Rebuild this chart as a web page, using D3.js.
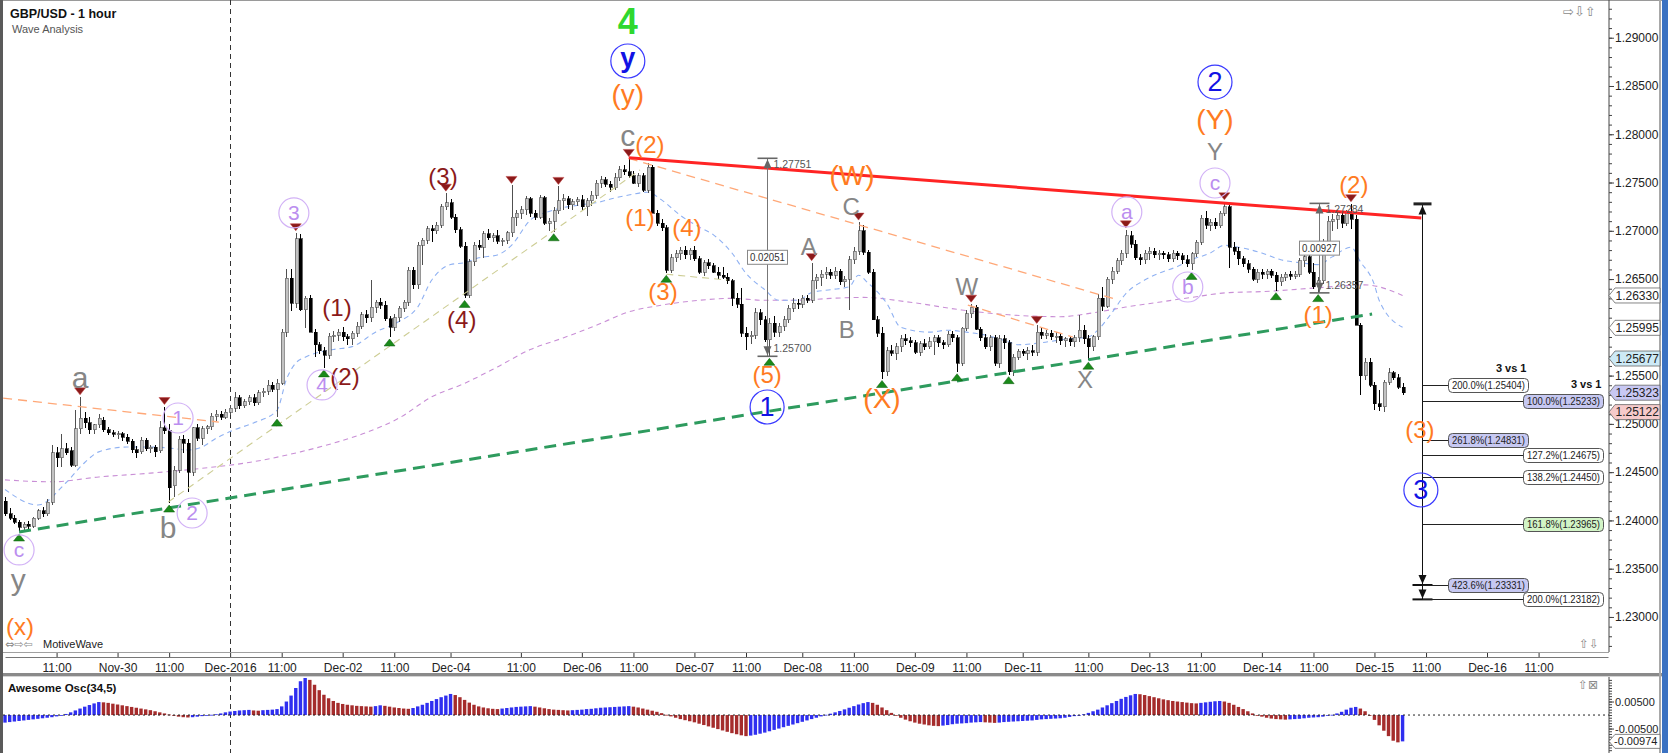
<!DOCTYPE html>
<html>
<head>
<meta charset="utf-8">
<title>GBP/USD - 1 hour</title>
<script src="https://cdn.jsdelivr.net/npm/d3@7"></script>
<style>
  html, body { margin: 0; padding: 0; background: #fff; }
  svg { display: block; font-family: "Liberation Sans", Arial, sans-serif; }
</style>
</head>
<body>
<div id="draw"></div>
<script>
// hourly GBP/USD candles, price x 10000 : [open, high, low, close]
const ohlc = [
[12420,12424,12405,12407],[12407,12413,12400,12402],[12402,12406,12396,12398],[12398,12400,12388,12393],[12393,12398,12390,12396],
[12396,12399,12391,12394],[12394,12404,12392,12402],[12402,12412,12400,12410],[12410,12414,12404,12407],[12407,12422,12405,12419],
[12419,12478,12416,12470],[12470,12476,12455,12465],[12465,12490,12455,12474],[12474,12480,12468,12470],[12472,12476,12455,12457],
[12457,12514,12455,12495],[12495,12528,12490,12506],[12506,12512,12496,12501],[12501,12507,12490,12494],[12494,12500,12490,12499],
[12499,12510,12496,12506],[12504,12507,12492,12494],[12494,12497,12488,12491],[12491,12494,12486,12489],[12489,12493,12484,12490],
[12490,12492,12482,12486],[12486,12489,12479,12482],[12482,12484,12470,12473],[12473,12477,12465,12470],[12471,12486,12469,12483],
[12483,12485,12472,12474],[12474,12478,12470,12476],[12476,12478,12466,12471],[12472,12503,12470,12496],[12496,12518,12490,12493],
[12493,12500,12418,12434],[12436,12456,12424,12452],[12452,12487,12449,12484],[12484,12488,12470,12480],[12480,12484,12429,12450],
[12450,12497,12446,12496],[12496,12500,12482,12485],[12485,12498,12478,12495],[12495,12499,12490,12497],[12497,12511,12494,12508],
[12508,12514,12503,12510],[12510,12513,12504,12507],[12507,12515,12505,12512],[12512,12520,12509,12516],[12516,12533,12512,12527],
[12527,12530,12515,12519],[12519,12526,12516,12523],[12523,12530,12520,12527],[12527,12531,12519,12522],[12522,12535,12520,12532],
[12532,12537,12528,12534],[12534,12545,12530,12540],[12540,12543,12533,12536],[12536,12546,12507,12542],[12542,12598,12540,12595],
[12595,12660,12590,12651],[12651,12660,12617,12625],[12625,12698,12620,12692],[12692,12697,12617,12618],[12618,12632,12599,12630],
[12630,12633,12595,12595],[12595,12598,12569,12582],[12582,12585,12572,12576],[12576,12580,12558,12571],[12571,12594,12567,12591],
[12591,12596,12585,12592],[12592,12598,12586,12595],[12595,12600,12586,12590],[12590,12593,12582,12588],[12588,12596,12582,12594],
[12594,12606,12590,12601],[12601,12616,12598,12613],[12613,12618,12604,12610],[12610,12649,12606,12621],[12621,12628,12615,12626],
[12626,12630,12619,12623],[12623,12627,12607,12609],[12609,12612,12590,12600],[12600,12614,12596,12610],[12610,12622,12606,12620],
[12620,12628,12616,12626],[12626,12662,12622,12659],[12659,12662,12640,12644],[12644,12688,12640,12685],[12685,12693,12665,12690],
[12690,12705,12686,12702],[12702,12706,12688,12700],[12700,12709,12697,12706],[12706,12728,12703,12725],[12725,12739,12722,12729],
[12729,12733,12712,12714],[12714,12717,12698,12701],[12701,12704,12682,12684],[12684,12688,12630,12633],[12633,12671,12630,12668],
[12668,12688,12664,12685],[12685,12690,12680,12683],[12683,12700,12672,12697],[12697,12702,12690,12693],[12693,12698,12688,12695],
[12695,12701,12686,12689],[12689,12693,12684,12690],[12690,12700,12686,12698],[12698,12747,12694,12714],[12714,12722,12705,12718],
[12718,12726,12712,12722],[12722,12736,12716,12733],[12733,12735,12714,12718],[12718,12722,12711,12714],[12714,12737,12712,12734],
[12734,12736,12706,12708],[12708,12713,12700,12710],[12710,12725,12699,12721],[12721,12746,12717,12731],[12731,12738,12722,12733],
[12733,12736,12723,12727],[12727,12733,12722,12730],[12730,12735,12726,12732],[12732,12737,12722,12725],[12725,12734,12715,12731],
[12731,12741,12726,12737],[12737,12753,12733,12749],[12749,12757,12744,12753],[12753,12756,12745,12748],[12748,12752,12740,12745],
[12745,12760,12742,12755],[12755,12767,12752,12763],[12763,12768,12758,12761],[12761,12775,12755,12757],[12757,12762,12748,12749],
[12749,12760,12745,12757],[12757,12760,12740,12742],[12742,12770,12739,12766],[12766,12768,12718,12718],[12718,12722,12705,12708],
[12708,12712,12700,12703],[12703,12706,12656,12659],[12659,12676,12656,12672],[12672,12680,12668,12676],[12676,12683,12670,12680],
[12680,12684,12671,12675],[12675,12682,12670,12680],[12680,12684,12669,12671],[12671,12674,12655,12657],[12657,12670,12653,12667],
[12667,12671,12660,12664],[12664,12667,12656,12657],[12657,12662,12650,12654],[12654,12663,12650,12652],[12652,12656,12645,12648],
[12648,12650,12622,12630],[12630,12636,12620,12624],[12624,12641,12590,12594],[12594,12600,12577,12590],[12590,12596,12583,12592],
[12592,12620,12588,12615],[12615,12619,12602,12608],[12608,12612,12585,12587],[12587,12610,12570,12604],[12604,12612,12590,12595],
[12595,12604,12590,12601],[12601,12612,12596,12608],[12608,12623,12605,12620],[12620,12630,12616,12625],[12625,12629,12619,12624],
[12624,12633,12620,12630],[12630,12633,12625,12628],[12628,12667,12625,12648],[12648,12655,12640,12652],[12652,12659,12643,12655],
[12655,12662,12650,12657],[12657,12660,12650,12654],[12654,12662,12650,12658],[12658,12660,12644,12647],[12647,12653,12642,12650],
[12650,12674,12618,12670],[12670,12683,12666,12679],[12679,12709,12675,12700],[12700,12706,12675,12678],[12678,12680,12655,12657],
[12657,12660,12608,12608],[12608,12612,12590,12594],[12594,12600,12547,12554],[12554,12580,12550,12576],[12576,12582,12570,12573],
[12573,12584,12566,12580],[12580,12592,12574,12588],[12588,12593,12582,12586],[12586,12590,12580,12584],[12584,12587,12572,12574],
[12574,12586,12570,12583],[12583,12588,12577,12580],[12580,12590,12578,12585],[12585,12592,12571,12589],[12589,12592,12580,12584],
[12584,12587,12578,12582],[12582,12596,12580,12593],[12593,12596,12585,12589],[12589,12592,12554,12563],[12563,12600,12560,12599],
[12599,12618,12596,12614],[12614,12624,12610,12621],[12621,12623,12597,12598],[12598,12600,12586,12589],[12589,12593,12578,12580],
[12580,12592,12575,12589],[12589,12592,12560,12563],[12563,12592,12558,12588],[12588,12592,12578,12584],[12584,12587,12551,12554],
[12554,12572,12550,12569],[12569,12578,12566,12575],[12575,12578,12570,12573],[12573,12580,12566,12576],[12576,12582,12570,12574],
[12574,12602,12570,12595],[12595,12600,12588,12592],[12592,12597,12588,12594],[12594,12597,12587,12590],[12590,12595,12584,12591],
[12591,12594,12582,12586],[12586,12590,12580,12588],[12588,12590,12581,12585],[12585,12592,12580,12589],[12589,12613,12585,12597],
[12597,12602,12583,12588],[12588,12592,12566,12580],[12580,12592,12575,12590],[12590,12635,12587,12630],[12630,12642,12617,12622],
[12622,12652,12620,12650],[12650,12662,12645,12658],[12658,12672,12655,12669],[12669,12680,12665,12677],[12677,12701,12672,12695],
[12695,12700,12682,12686],[12686,12690,12670,12672],[12672,12676,12665,12670],[12670,12680,12666,12677],[12677,12683,12670,12679],
[12679,12682,12672,12675],[12675,12680,12670,12677],[12677,12679,12671,12675],[12675,12678,12668,12671],[12671,12680,12668,12677],
[12677,12679,12670,12674],[12674,12677,12666,12670],[12670,12675,12663,12666],[12666,12678,12659,12676],[12676,12690,12673,12688],
[12688,12716,12685,12713],[12713,12720,12702,12706],[12706,12712,12700,12709],[12709,12713,12702,12705],[12705,12721,12703,12718],
[12718,12730,12715,12725],[12725,12728,12661,12683],[12683,12688,12675,12679],[12679,12683,12665,12671],[12671,12674,12662,12666],
[12666,12670,12656,12660],[12660,12662,12648,12650],[12650,12660,12646,12657],[12657,12660,12650,12655],[12655,12660,12650,12658],
[12658,12660,12651,12654],[12654,12657,12638,12647],[12647,12655,12643,12652],[12652,12657,12648,12655],[12655,12658,12649,12653],
[12653,12658,12650,12655],[12655,12672,12652,12669],[12669,12680,12662,12673],[12673,12676,12655,12657],[12657,12667,12640,12642],
[12642,12652,12636,12648],[12648,12692,12645,12688],[12688,12715,12685,12710],[12710,12717,12700,12712],[12712,12720,12702,12716],
[12716,12721,12703,12708],[12708,12722,12705,12719],[12719,12728,12702,12712],[12712,12716,12602,12602],[12602,12605,12530,12550],
[12550,12568,12545,12564],[12564,12568,12538,12540],[12540,12543,12514,12521],[12521,12535,12513,12518],[12518,12545,12512,12543],
[12543,12558,12540,12553],[12553,12555,12545,12548],[12548,12552,12536,12538],[12538,12542,12530,12532]
];

// Awesome Osc(34,5) per bar, in pips (x 0.0001)
const aoPips = [
-28,-26,-24,-22,-20,-18,-16,-14,-12,-10,-8,-5,-2,
4,10,17,24,31,37,43,48,
47,45,42,39,36,33,30,27,24,21,18,14,10,6,2,
-3,-6,-8,-9,-8,-6,-4,-2,1,3,
6,10,13,15,17,18,19,17,16,18,19,20,22,
32,50,72,100,125,137,
130,112,92,75,62,52,45,41,38,36,34,33,32,31,
33,36,
34,31,28,26,24,23,
26,32,38,45,52,59,66,72,78,
74,66,56,46,38,32,28,25,23,22,
24,26,28,30,31,32,33,
31,28,25,22,20,19,18,17,
18,19,20,22,23,25,27,28,29,30,31,32,33,
31,28,24,20,16,
12,7,1,-5,-10,-15,-19,-23,-27,-32,-37,-42,-47,-52,-57,-62,-67,-71,-75,-78,
-76,-73,-69,-65,-60,-55,-50,-45,-40,-35,-30,-25,-20,-15,-10,-5,1,
5,10,15,21,27,33,39,44,48,
45,38,28,18,8,-2,-10,-17,-23,-28,-32,-35,-38,-40,-41,
-39,-37,-34,-32,-31,-30,-28,-27,-26,-27,-28,-29,-28,-26,-25,-24,-23,-22,-21,-20,-18,-16,-15,-14,-13,-12,-10,
-7,-4,-1,3,8,14,20,28,36,44,52,60,67,73,78,
77,74,70,66,62,58,55,52,50,48,46,44,43,
45,47,49,51,52,
50,45,38,30,
22,14,6,-1,-6,-10,-13,-15,-16,-17,-16,-15,-14,-12,-10,-9,-8,-6,-3,1,6,
12,20,27,30,
24,14,0,-18,-38,-58,-78,-95,-101,-97.4
];

// moving averages: [bar, price]
const blueMa = [
[0,1.2432],[7,1.2416],[13,1.2439],[17,1.2460],[20,1.2471],[26,1.2476],[31,1.2476],[35,1.2475],[39,1.2473],[42,1.2476],
[45,1.2485],[49,1.2494],[53,1.2501],[58,1.2514],[60,1.2546],[62,1.2563],[64,1.2569],[70,1.2577],[74,1.2580],[79,1.2595],
[84,1.2606],[88,1.2621],[91,1.2649],[95,1.2665],[98,1.2667],[101,1.2672],[105,1.2675],[108,1.2685],[112,1.2711],[116,1.2720],
[119,1.2724],[123,1.2727],[126,1.2729],[130,1.2734],[133,1.2737],[137,1.2740],[140,1.2732],[144,1.2716],[148,1.2704],[151,1.2696],
[155,1.2677],[158,1.2656],[162,1.2639],[165,1.2628],[169,1.2628],[172,1.2636],[176,1.2639],[180,1.2642],[182,1.2654],[184,1.2646],
[188,1.2625],[191,1.2600],[197,1.2595],[201,1.2597],[205,1.2595],[209,1.2592],[214,1.2585],[216,1.2582],[221,1.2584],[225,1.2587],
[231,1.2590],[233,1.2597],[236,1.2615],[239,1.2635],[243,1.2649],[246,1.2656],[250,1.2663],[253,1.2670],[257,1.2677],[260,1.2685],
[263,1.2683],[268,1.2677],[272,1.2670],[276,1.2667],[280,1.2665],[283,1.2673],[287,1.2683],[289,1.2668],[292,1.2644],[293,1.2628],[298,1.2600]
];
const purpleMa = [
[0,1.2442],[10,1.2440],[20,1.2445],[31,1.2449],[42,1.2454],[52,1.2460],[63,1.2471],[70,1.2480],[77,1.2491],[84,1.2506],
[91,1.2528],[98,1.2542],[105,1.2559],[112,1.2577],[119,1.2589],[126,1.2602],[133,1.2616],[140,1.2623],[148,1.2628],[155,1.2630],
[162,1.2628],[169,1.2628],[176,1.2630],[183,1.2631],[193,1.2626],[204,1.2618],[214,1.2613],[225,1.2611],[232,1.2615],[239,1.2621],
[246,1.2626],[253,1.2631],[261,1.2636],[268,1.2637],[280,1.2641],[290,1.2644],[298,1.2633]
];

// time axis
const tickBars = [11,24,35,48,59,72,83,95,110,123,134,147,158,170,181,194,205,217,231,244,255,268,279,292,303,316,327];
const tickLabels = ["11:00","Nov-30","11:00","Dec-2016","11:00","Dec-02","11:00","Dec-04","11:00","Dec-06","11:00","Dec-07","11:00",
  "Dec-08","11:00","Dec-09","11:00","Dec-11","11:00","Dec-13","11:00","Dec-14","11:00","Dec-15","11:00","Dec-16","11:00"];
const monthStartBar = 48;

const priceTicks = [1.230,1.235,1.240,1.245,1.250,1.255,1.260,1.265,1.270,1.275,1.280,1.285,1.290];
const oscTicks = [-0.005, 0.005];
const priceTags = [[1.26330,"plain"],[1.25995,"plain"],[1.25677,"blue"],[1.25323,"lavender"],[1.25122,"pink"]];
const oscLast = -0.00974;

// swing markers (bar index)
const highMarks = [16,34,62,94,108,118,133,172,182,206,220,239,260,287];
const lowMarks = [3,35,58,68,82,98,117,141,163,187,203,214,231,253,271,280];

// trend lines [bar, price] -> [bar, price]
const trendLines = [
  {kind:"orange", from:[-0.4,1.25267], to:[45.6,1.25019]},
  {kind:"khaki",  from:[34.8,1.2419],  to:[135.4,1.2763]},
  {kind:"khaki",  from:[141,1.2655],   to:[154,1.2649]},
  {kind:"orange", from:[133,1.2775],   to:[236.7,1.26293]},
  {kind:"orange", from:[205.3,1.26231],to:[227.7,1.25899]},
  {kind:"support",from:[3,1.2388],     to:[291.5,1.26138]},
  {kind:"resist", from:[133,1.27757],  to:[302,1.27132]}
];

// price range tool
const measures = [
  {bar:162.5, top:1.27751, bottom:1.25700, diff:"0.02051"},
  {bar:280.2, top:1.27284, bottom:1.26357, diff:"0.00927"}
];

// fib extension
const fibAnchor = {bar:302.1, top:1.27284};
const fibLevels = [
  ["200.0%",1.25404,"near","plain"],
  ["100.0%",1.25233,"far","lavender"],
  ["261.8%",1.24831,"near","lavender"],
  ["127.2%",1.24675,"far","plain"],
  ["138.2%",1.24450,"far","plain"],
  ["161.8%",1.23965,"far","green"],
  ["423.6%",1.23331,"near","lavender"],
  ["200.0%",1.23182,"far","plain"]
];
const fibStops = [1.23331, 1.23182];
const fibHeaders = [["3 vs 1","near",1.25404],["3 vs 1","far",1.25233]];

// wave labels [text, bar, price, kind]
const waveLabels = [
  ["4",132.8,1.2917,"green"],
  ["y",132.8,1.28759,"blueCircle"],
  ["(y)",132.8,1.28376,"orangeBig"],
  ["c",132.8,1.27982,"gray"],
  ["(2)",137.5,1.27889,"orange"],
  ["(1)",135.4,1.27133,"orange"],
  ["(4)",145.4,1.27029,"orange"],
  ["(3)",140.3,1.26366,"orange"],
  ["(5)",162.5,1.25507,"orange"],
  ["1",162.5,1.25175,"blueCircle"],
  ["A",171.4,1.26832,"grayCap"],
  ["B",179.5,1.25972,"grayCap"],
  ["C",180.4,1.27246,"grayCap"],
  ["(W)",180.6,1.27578,"orangeBig"],
  ["(3)",93.4,1.27557,"darkred"],
  ["(4)",97.4,1.26076,"darkred"],
  ["(1)",70.8,1.26200,"darkred"],
  ["(2)",72.5,1.25485,"darkred"],
  ["3",61.6,1.27185,"purpleCircle"],
  ["4",67.6,1.25403,"purpleCircle"],
  ["1",36.9,1.25061,"purpleCircle"],
  ["2",39.9,1.24077,"purpleCircle"],
  ["c",3,1.23694,"purpleCircle"],
  ["y",2.8,1.2335,"gray"],
  ["(x)",3.2,1.22897,"orange"],
  ["a",16,1.25485,"gray"],
  ["b",34.8,1.23922,"gray"],
  ["W",205.1,1.26418,"grayCap"],
  ["X",230.3,1.25455,"grayCap"],
  ["(X)",187,1.25268,"orangeBig"],
  ["a",239.2,1.27195,"purpleCircle"],
  ["b",252.2,1.26418,"purpleCircle"],
  ["c",258,1.27495,"purpleCircle"],
  ["Y",258,1.27816,"grayCap"],
  ["(Y)",258,1.28158,"orangeBig"],
  ["2",258,1.28541,"blueCircle"],
  ["(2)",287.6,1.27474,"orange"],
  ["(1)",280,1.26127,"orange"],
  ["(3)",301.7,1.24936,"orange"],
  ["3",301.9,1.24315,"blueCircle"]
];

const FONT = "Liberation Sans, Arial, sans-serif";

class WaveChartRenderer {

    constructor(candles, ao) {
        this.candles = candles;
        this.ao = ao;
    }

    render() {
        this._initVariable();
        this.vis = this._initSvg();
        this._drawFrame();
        this._drawTimeAxis();
        this._drawPriceAxis();
        this._drawOscPane();
        this._drawMovingAverages();
        this._drawCandles();
        this._drawTrendLines();
        this._drawMarkers();
        this._drawMeasures();
        this._drawFib();
        this._drawLabels();
        this._drawTags();
        this._drawHeader();
    }

    _initVariable() {
        this.w = 1668;
        this.h = 753;
        this.axisX = 1609;
        this.plotBottom = 652;
        this.oscTop = 677;
        // bar index -> pixel, one hourly bar ~4.69px
        this.x = d3.scaleLinear().domain([0, 341.8]).range([5, 1608]);
        this.y = d3.scaleLinear().domain([1.22637, 1.2937]).range([652, 2]);
        this.yOsc = d3.scaleLinear().domain([-0.0133, 0.0137]).range([751, 678]);
    }

    _initSvg() {
        const svg = d3.select("#draw").append("svg")
            .attr("width", this.w)
            .attr("height", this.h)
            .attr("font-family", FONT);
        const defs = svg.append("defs");
        defs.append("clipPath").attr("id", "plotClip")
            .append("rect").attr("x", 3).attr("y", 0).attr("width", this.axisX - 3).attr("height", this.plotBottom);
        defs.append("clipPath").attr("id", "oscClip")
            .append("rect").attr("x", 3).attr("y", this.oscTop).attr("width", this.axisX - 3).attr("height", this.h - this.oscTop);
        return svg;
    }

    _drawFrame() {
        const v = this.vis;
        v.append("rect").attr("width", this.w).attr("height", this.h).attr("fill", "#fff");
        // strip between the time axis and the oscillator
        v.append("rect").attr("x", 0).attr("y", 673).attr("width", this.w).attr("height", 3).attr("fill", "#8a8a8a");
        v.append("line").attr("x1", 0).attr("x2", this.w).attr("y1", 676.5).attr("y2", 676.5).attr("stroke", "#d4d4d4");
        v.append("line").attr("x1", 0).attr("x2", this.axisX).attr("y1", this.plotBottom + 0.5).attr("y2", this.plotBottom + 0.5)
            .attr("stroke", "#a0a0a0");
        v.append("line").attr("x1", 0).attr("x2", this.w).attr("y1", 0.5).attr("y2", 0.5).attr("stroke", "#9a9a9a");
        // window edges
        v.append("rect").attr("x", 0).attr("y", 0).attr("width", 3).attr("height", this.h).attr("fill", "#5a5a5a");
        v.append("rect").attr("x", 1659).attr("y", 0).attr("width", 2).attr("height", this.h).attr("fill", "#a8a8a8");
        v.append("rect").attr("x", 1662).attr("y", 0).attr("width", 6).attr("height", this.h).attr("fill", "#3b72c2");
        // month separator, dashed through both panes
        const mx = Math.round(this.x(monthStartBar)) + 0.5;
        [[0, this.plotBottom], [this.oscTop, this.h]].forEach(([a, b]) => {
            v.append("line").attr("x1", mx).attr("x2", mx).attr("y1", a).attr("y2", b)
                .attr("stroke", "#333").attr("stroke-dasharray", "5,4");
        });
    }

    _drawTimeAxis() {
        const axis = d3.axisBottom(this.x)
            .tickValues(tickBars)
            .tickFormat((d, i) => tickLabels[i])
            .tickSize(-4).tickSizeOuter(0).tickPadding(6);
        const g = this.vis.append("g").attr("transform", "translate(0,657)").call(axis);
        g.attr("font-family", FONT).attr("font-size", 12);
        g.select(".domain").attr("stroke", "#777");
        g.selectAll(".tick line").attr("stroke", "#333");
        g.selectAll("text").attr("fill", "#222");
    }

    _drawPriceAxis() {
        const g = this.vis.append("g").attr("transform", `translate(${this.axisX},0)`);
        const minor = d3.axisRight(this.y).tickValues(d3.range(1.227, 1.2935, 0.001)).tickSize(3).tickFormat("");
        g.append("g").call(minor).call(s => s.select(".domain").remove());
        const major = d3.axisRight(this.y).tickValues(priceTicks)
            .tickFormat(d => d.toFixed(5)).tickSize(5).tickSizeOuter(0).tickPadding(1);
        const mg = g.append("g").call(major);
        mg.attr("font-family", FONT).attr("font-size", 12);
        mg.select(".domain").attr("d", `M0,0V${this.plotBottom}`).attr("stroke", "#444");
        mg.selectAll("text").attr("fill", "#222");
        g.selectAll("line").attr("stroke", "#444");
    }

    _drawOscPane() {
        const v = this.vis;
        const zero = this.yOsc(0);
        const g = v.append("g").attr("clip-path", "url(#oscClip)");
        const vals = this.ao.map(p => p / 10000);
        g.selectAll("rect.ao").data(vals).join("rect").attr("class", "ao")
            .attr("x", (d, i) => this.x(i) - 1.7)
            .attr("width", 3.4)
            .attr("y", d => Math.min(this.yOsc(d), zero))
            .attr("height", d => Math.max(0.8, Math.abs(this.yOsc(d) - zero)))
            // blue while rising, red while falling
            .attr("fill", (d, i) => (i === 0 || d > vals[i - 1]) ? "#2f2ff0" : "#a52c2c");
        v.append("line").attr("x1", 3).attr("x2", this.axisX).attr("y1", zero).attr("y2", zero)
            .attr("stroke", "#222").attr("stroke-dasharray", "2,3");

        const ax = v.append("g").attr("transform", `translate(${this.axisX},0)`);
        ax.append("g").call(d3.axisRight(this.yOsc).tickValues(d3.range(-0.013, 0.0131, 0.001)).tickSize(3).tickFormat(""))
            .call(s => s.select(".domain").remove());
        const mg = ax.append("g").call(d3.axisRight(this.yOsc).tickValues(oscTicks)
            .tickFormat(d => d.toFixed(5)).tickSize(5).tickSizeOuter(0).tickPadding(1));
        mg.attr("font-family", FONT).attr("font-size", 11);
        mg.select(".domain").attr("d", `M0,${this.oscTop}V${this.h}`).attr("stroke", "#444");
        ax.selectAll("line").attr("stroke", "#444");
        mg.selectAll("text").attr("fill", "#222");

        v.append("text").attr("x", 8).attr("y", 692).attr("font-size", 11.5).attr("font-weight", "bold")
            .attr("fill", "#111").text("Awesome Osc(34,5)");
        v.append("text").attr("x", 1578).attr("y", 689).attr("font-size", 12).attr("fill", "#8a8a8a")
            .attr("font-family", "DejaVu Sans").text("⇧⊠");

        // last value tag
        const ty = this.yOsc(oscLast);
        v.append("path")
            .attr("d", `M1609,${ty} L1615,${ty - 7} L1660,${ty - 7} L1660,${ty + 7} L1615,${ty + 7} Z`)
            .attr("fill", "#fff").attr("stroke", "#666").attr("stroke-width", 0.8);
        v.append("text").attr("x", 1614).attr("y", ty).attr("dy", "0.35em").attr("font-size", 11)
            .attr("fill", "#222").text(oscLast.toFixed(5));
    }

    _drawMovingAverages() {
        const g = this.vis.append("g").attr("clip-path", "url(#plotClip)");
        const line = d3.line().x(d => this.x(d[0])).y(d => this.y(d[1])).curve(d3.curveMonotoneX);
        g.append("path").attr("d", line(purpleMa)).attr("fill", "none")
            .attr("stroke", "#c98fd6").attr("stroke-width", 1.1).attr("stroke-dasharray", "5,4");
        g.append("path").attr("d", line(blueMa)).attr("fill", "none")
            .attr("stroke", "#8fb1f2").attr("stroke-width", 1.1).attr("stroke-dasharray", "5,4");
    }

    _drawCandles() {
        const g = this.vis.append("g").attr("clip-path", "url(#plotClip)").attr("shape-rendering", "crispEdges");
        const rows = this.candles.map((d, i) => ({i: i, o: d[0] / 1e4, h: d[1] / 1e4, l: d[2] / 1e4, c: d[3] / 1e4}));
        const up = d => d.c >= d.o;
        g.selectAll("line.wick").data(rows).join("line").attr("class", "wick")
            .attr("x1", d => Math.round(this.x(d.i)) + 0.5)
            .attr("x2", d => Math.round(this.x(d.i)) + 0.5)
            .attr("y1", d => this.y(d.h)).attr("y2", d => this.y(d.l))
            .attr("stroke", d => up(d) ? "#505050" : "#000");
        g.selectAll("rect.body").data(rows).join("rect").attr("class", "body")
            .attr("x", d => Math.round(this.x(d.i)) - 1)
            .attr("width", 3)
            .attr("y", d => this.y(Math.max(d.o, d.c)))
            .attr("height", d => Math.max(1, Math.abs(this.y(d.o) - this.y(d.c))))
            .attr("fill", d => up(d) ? "#c2c2c2" : "#000")
            .attr("stroke", d => up(d) ? "#505050" : "#000")
            .attr("stroke-width", 0.6);
    }

    _drawTrendLines() {
        const style = {
            support: {stroke: "#2e9b5e", width: 3, dash: "12,7"},
            resist:  {stroke: "#ff2424", width: 3, dash: null},
            orange:  {stroke: "#ffa878", width: 1.3, dash: "9,6"},
            khaki:   {stroke: "#cdcd94", width: 1.1, dash: "7,5"}
        };
        const g = this.vis.append("g").attr("clip-path", "url(#plotClip)");
        trendLines.forEach(t => {
            const s = style[t.kind];
            g.append("line")
                .attr("x1", this.x(t.from[0])).attr("y1", this.y(t.from[1]))
                .attr("x2", this.x(t.to[0])).attr("y2", this.y(t.to[1]))
                .attr("stroke", s.stroke).attr("stroke-width", s.width)
                .attr("stroke-dasharray", s.dash);
        });
    }

    _drawMarkers() {
        const g = this.vis.append("g");
        highMarks.forEach(i => {
            const cx = this.x(i), yy = this.y(this.candles[i][1] / 1e4);
            g.append("path").attr("d", `M${cx - 5.5},${yy - 9} L${cx + 5.5},${yy - 9} L${cx},${yy - 2} Z`)
                .attr("fill", "#8b1a1a").attr("stroke", "#c04040").attr("stroke-width", 0.5);
        });
        lowMarks.forEach(i => {
            const cx = this.x(i), yy = this.y(this.candles[i][2] / 1e4);
            g.append("path").attr("d", `M${cx - 5.5},${yy + 9} L${cx + 5.5},${yy + 9} L${cx},${yy + 2} Z`)
                .attr("fill", "#1a8a1a").attr("stroke", "#0c5a0c").attr("stroke-width", 0.5);
        });
    }

    _drawMeasures() {
        const g = this.vis.append("g");
        measures.forEach(m => {
            const mx = Math.round(this.x(m.bar)) + 0.5;
            const yT = this.y(m.top), yB = this.y(m.bottom);
            g.append("line").attr("x1", mx).attr("x2", mx).attr("y1", yT).attr("y2", yB).attr("stroke", "#777");
            [yT, yB].forEach(yy => {
                g.append("line").attr("x1", mx - 10).attr("x2", mx + 10).attr("y1", yy).attr("y2", yy)
                    .attr("stroke", "#666").attr("stroke-width", 1.6);
            });
            g.append("path").attr("d", `M${mx},${yT + 1} L${mx - 4},${yT + 10} L${mx + 4},${yT + 10} Z`).attr("fill", "#666");
            g.append("path").attr("d", `M${mx},${yB - 1} L${mx - 4},${yB - 10} L${mx + 4},${yB - 10} Z`).attr("fill", "#666");
            g.append("text").attr("x", mx + 6).attr("y", yT + 10).attr("font-size", 10.5).attr("fill", "#555").text(m.top.toFixed(5));
            g.append("text").attr("x", mx + 6).attr("y", yB - 4).attr("font-size", 10.5).attr("fill", "#555").text(m.bottom.toFixed(5));
            const ym = (yT + yB) / 2;
            g.append("rect").attr("x", mx - 20).attr("y", ym - 7).attr("width", 40).attr("height", 14)
                .attr("fill", "#fff").attr("stroke", "#888");
            g.append("text").attr("x", mx).attr("y", ym).attr("dy", "0.35em").attr("text-anchor", "middle")
                .attr("font-size", 10.5).attr("fill", "#333").attr("textLength", 35).attr("lengthAdjust", "spacingAndGlyphs")
                .text(m.diff);
        });
    }

    _drawFib() {
        const g = this.vis.append("g");
        const fx = Math.round(this.x(fibAnchor.bar)) + 0.5;
        const colX = {near: fx + 26, far: fx + 101};
        const boxW = 80, boxH = 14;
        const fill = {plain: "#ffffff", lavender: "#c6c8f2", green: "#d2f4c6"};
        const yTop = this.y(fibAnchor.top);
        const yEnd = this.y(d3.min(fibStops));
        g.append("line").attr("x1", fx).attr("x2", fx).attr("y1", yTop).attr("y2", yEnd).attr("stroke", "#111");
        g.append("rect").attr("x", fx - 9).attr("y", yTop - 1).attr("width", 18).attr("height", 3).attr("fill", "#222");
        g.append("path").attr("d", `M${fx},${yTop + 2} L${fx - 4},${yTop + 11} L${fx + 4},${yTop + 11} Z`).attr("fill", "#111");
        fibStops.forEach(p => {
            const yy = this.y(p);
            g.append("rect").attr("x", fx - 10).attr("y", yy - 1).attr("width", 20).attr("height", 2).attr("fill", "#111");
            g.append("path").attr("d", `M${fx},${yy - 1} L${fx - 4},${yy - 10} L${fx + 4},${yy - 10} Z`).attr("fill", "#111");
        });
        fibLevels.forEach(([pct, p, col, kind]) => {
            const yy = Math.round(this.y(p)) + 0.5;
            const bx = colX[col];
            g.append("line").attr("x1", fx).attr("x2", bx).attr("y1", yy).attr("y2", yy).attr("stroke", "#222");
            g.append("rect").attr("x", bx).attr("y", yy - boxH / 2).attr("width", boxW).attr("height", boxH)
                .attr("rx", 4).attr("fill", fill[kind]).attr("stroke", "#555");
            g.append("text").attr("x", bx + boxW / 2).attr("y", yy).attr("dy", "0.35em").attr("text-anchor", "middle")
                .attr("font-size", 10.5).attr("fill", "#222").attr("textLength", 73).attr("lengthAdjust", "spacingAndGlyphs")
                .text(`${pct}(${p.toFixed(5)})`);
        });
        fibHeaders.forEach(([txt, col, p]) => {
            g.append("text").attr("x", colX[col] + boxW - 2).attr("y", this.y(p) - 13).attr("text-anchor", "end")
                .attr("font-size", 11).attr("font-weight", "bold").attr("fill", "#111").text(txt);
        });
    }

    _drawLabels() {
        const style = {
            green:        {size: 36, color: "#2fd82f", weight: "bold"},
            orange:       {size: 24, color: "#ff7b22"},
            orangeBig:    {size: 28, color: "#ff7b22"},
            darkred:      {size: 24, color: "#8b1a1a"},
            gray:         {size: 30, color: "#868686"},
            grayCap:      {size: 24, color: "#868686"},
            purpleCircle: {size: 21, color: "#bb8eef", ring: "#d2b2f6", r: 15},
            blueCircle:   {size: 27, color: "#1212e4", ring: "#3a3aff", r: 17}
        };
        const g = this.vis.append("g");
        waveLabels.forEach(([txt, bar, p, kind]) => {
            const s = style[kind];
            const cx = this.x(bar), cy = this.y(p);
            if (s.r) {
                g.append("circle").attr("cx", cx).attr("cy", cy).attr("r", s.r)
                    .attr("fill", "none").attr("stroke", s.ring).attr("stroke-width", 1.2);
            }
            // letters with a descender sit a bit higher
            const shift = /[yp]/.test(txt) ? "0.22em" : "0.35em";
            g.append("text").attr("x", cx).attr("y", cy).attr("dy", shift)
                .attr("text-anchor", "middle")
                .attr("font-size", s.size)
                .attr("font-weight", s.weight || (kind === "blueCircle" && txt === "y" ? "bold" : "normal"))
                .attr("fill", s.color)
                .text(txt);
        });
    }

    _drawTags() {
        const tagFill = {plain: "#ffffff", blue: "#cdeaf6", lavender: "#c8c8f3", pink: "#f6caca"};
        const g = this.vis.append("g");
        priceTags.forEach(([p, kind]) => {
            const yy = this.y(p);
            g.append("path")
                .attr("d", `M1609,${yy} L1615,${yy - 7.5} L1660,${yy - 7.5} L1660,${yy + 7.5} L1615,${yy + 7.5} Z`)
                .attr("fill", tagFill[kind]).attr("stroke", "#666").attr("stroke-width", 0.8);
            g.append("text").attr("x", 1615.5).attr("y", yy).attr("dy", "0.36em")
                .attr("font-size", 12).attr("fill", "#222").text(p.toFixed(5));
        });
    }

    _drawHeader() {
        const v = this.vis;
        v.append("text").attr("x", 10).attr("y", 18).attr("font-size", 12.5).attr("font-weight", "bold")
            .attr("fill", "#111").text("GBP/USD - 1 hour");
        v.append("text").attr("x", 12).attr("y", 33).attr("font-size", 11).attr("fill", "#555").text("Wave Analysis");
        v.append("text").attr("x", 1563).attr("y", 16).attr("font-size", 13).attr("fill", "#8a8a8a")
            .attr("font-family", "DejaVu Sans").text("⇨⇩⇧");
        v.append("text").attr("x", 1579).attr("y", 648).attr("font-size", 12).attr("fill", "#8a8a8a")
            .attr("font-family", "DejaVu Sans").text("⇧⇩");
        v.append("text").attr("x", 5).attr("y", 648).attr("font-size", 11).attr("fill", "#8a8a8a")
            .attr("font-family", "DejaVu Sans").text("⇔⇨⇦");
        v.append("text").attr("x", 43).attr("y", 648).attr("font-size", 11).attr("fill", "#222").text("MotiveWave");
    }

}

new WaveChartRenderer(ohlc, aoPips).render();
</script>
</body>
</html>
